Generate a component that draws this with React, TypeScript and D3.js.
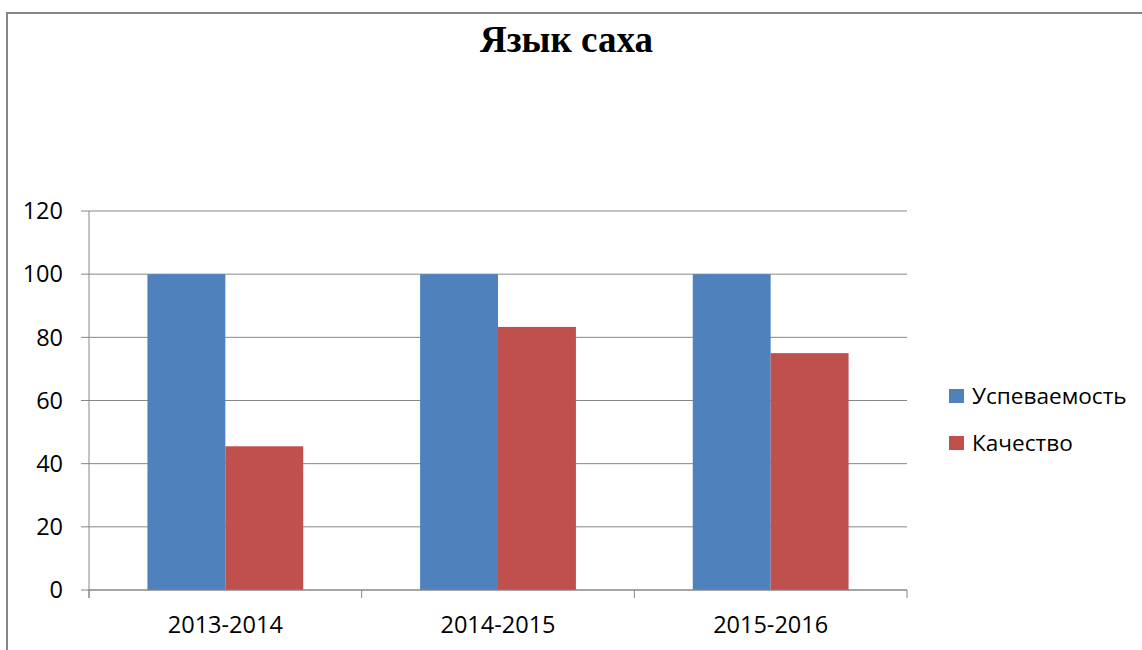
import React from "react";
import * as d3 from "d3";

const categories = ["2013-2014", "2014-2015", "2015-2016"];
const seriesNames = ["Успеваемость", "Качество"];
const uspevaemost = [100, 100, 100];
const kachestvo = [45.5, 83.3, 75];
const yTicks = [0, 20, 40, 60, 80, 100, 120];
const title = "Язык саха";

const colors = ["#4F81BD", "#C0504D"];
const W = 1142;
const H = 650;
const left = 89;
const right = 907;
const top = 211;
const bottom = 590;
const font = "'Open Sans', sans-serif";

export default function App() {
  const x = d3.scaleBand<string>().domain(categories).range([left, right]).paddingInner(0).paddingOuter(0);
  const y = d3.scaleLinear().domain([0, 120]).range([bottom, top]);
  const bw = x.bandwidth();
  const barW = bw / 3.5;
  const gap = (bw - 2 * barW) / 2;
  const series = [uspevaemost, kachestvo];
  const boundaries = [...categories.map((c) => x(c) as number), right];

  return (
    <svg
      width={W}
      height={H}
      style={{ position: "absolute", left: 0, top: 0, background: "#fff" }}
    >
      <rect x={7} y={13} width={W + 20} height={H + 20} fill="#fff" stroke="#868686" strokeWidth={2} />
      <text
        x={566.5}
        y={52}
        textAnchor="middle"
        fontFamily="'Liberation Serif', 'Times New Roman', serif"
        fontWeight="bold"
        fontSize={37}
        fill="#000"
      >
        {title}
      </text>
      {yTicks.map((t) => (
        <g key={t}>
          <line x1={left - 8} x2={right} y1={y(t)} y2={y(t)} stroke="#868686" strokeWidth={1} />
          <text
            x={63}
            y={y(t)}
            dy="0.35em"
            textAnchor="end"
            fontFamily={font}
            fontSize={23.5}
            fill="#000"
          >
            {t}
          </text>
        </g>
      ))}
      {series.map((vals, si) =>
        vals.map((v, ci) => (
          <rect
            key={`${si}-${ci}`}
            x={(x(categories[ci]) as number) + gap + si * barW}
            y={y(v)}
            width={barW}
            height={y(0) - y(v)}
            fill={colors[si]}
          />
        ))
      )}
      <line x1={left} x2={left} y1={top} y2={bottom + 8} stroke="#868686" strokeWidth={1} />
      <line x1={left} x2={right} y1={bottom} y2={bottom} stroke="#868686" strokeWidth={1} />
      {boundaries.map((b, i) => (
        <line key={i} x1={b} x2={b} y1={bottom} y2={bottom + 8} stroke="#868686" strokeWidth={1} />
      ))}
      {categories.map((c) => (
        <text
          key={c}
          x={(x(c) as number) + bw / 2}
          y={633}
          textAnchor="middle"
          fontFamily={font}
          fontSize={23.5}
          fill="#000"
        >
          {c}
        </text>
      ))}
      {seriesNames.map((n, i) => (
        <g key={n}>
          <rect x={949} y={389 + i * 47} width={15} height={14} fill={colors[i]} />
          <text x={972} y={404 + i * 47} fontFamily={font} fontSize={22.6} fill="#000">
            {n}
          </text>
        </g>
      ))}
    </svg>
  );
}
